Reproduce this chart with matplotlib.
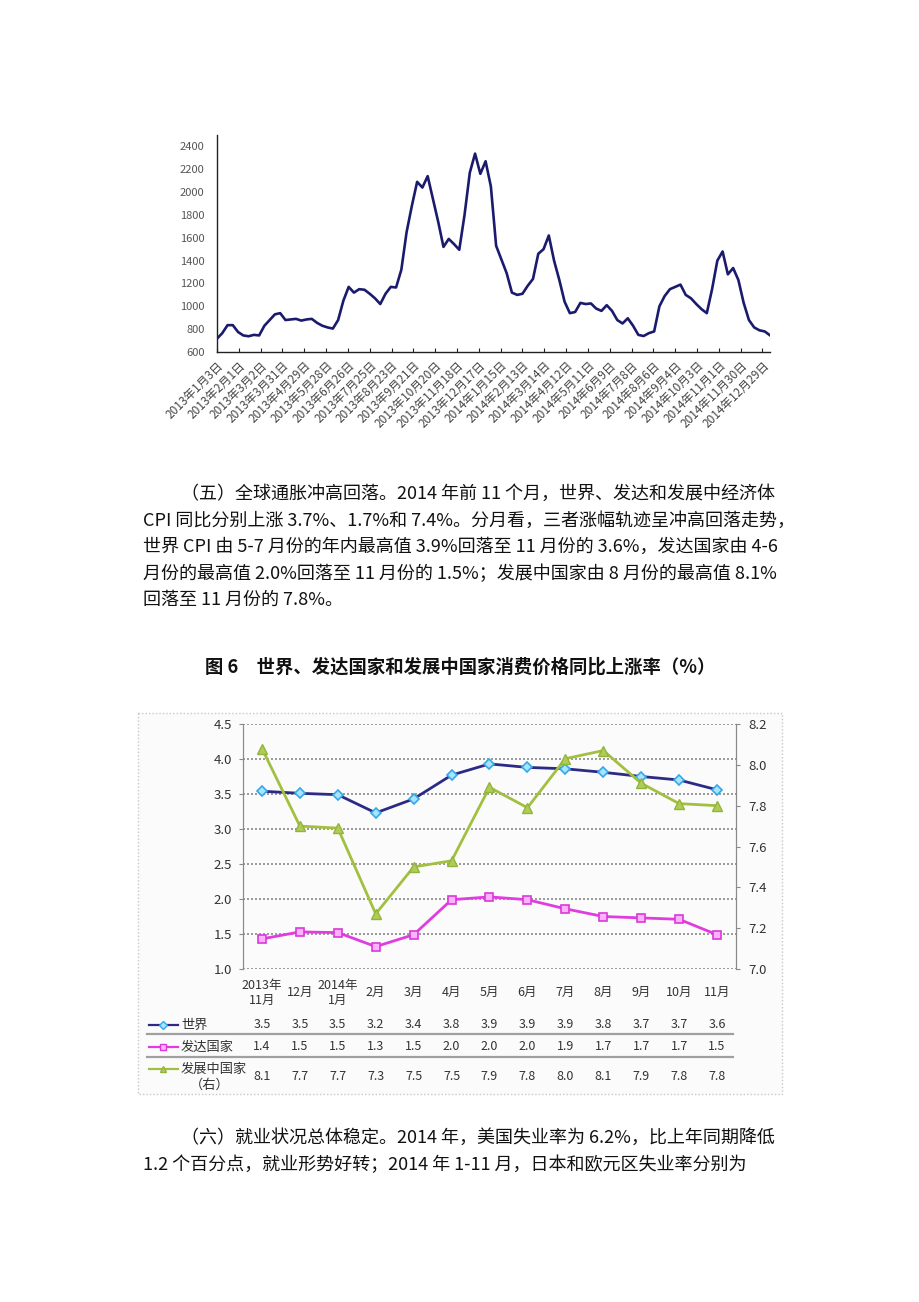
import numpy as np
import matplotlib
matplotlib.use("Agg")
from matplotlib import pyplot as plt
from matplotlib.patches import Rectangle
import matplotlib.transforms as mtransforms

plt.rcParams['font.family'] = ['Noto Sans CJK SC', 'DejaVu Sans']

# ---- top chart: index, one value per week from 2013-01-03
bdi_start = np.datetime64('2013-01-03')
bdi_values = [717, 765, 835, 835, 775, 745, 738, 750, 745, 830, 880, 930, 940, 880,
              885, 890, 875, 885, 890, 855, 830, 815, 805, 880, 1050, 1170, 1120, 1150,
              1145, 1110, 1070, 1020, 1110, 1170, 1165, 1320, 1650, 1880, 2090, 2040, 2140,
              1940, 1740, 1520, 1590, 1545, 1495, 1800, 2170, 2337, 2160, 2270, 2050, 1530,
              1410, 1290, 1120, 1100, 1110, 1180, 1240, 1460, 1500, 1620, 1400, 1230, 1040,
              940, 950, 1030, 1020, 1025, 980, 960, 1010, 960, 880, 850, 895, 830, 750,
              740, 765, 780, 1000, 1090, 1150, 1170, 1190, 1100, 1070, 1020, 975, 940, 1150,
              1400, 1480, 1280, 1335, 1230, 1030, 880, 815, 790, 780, 746]
bdi_tick_labels = ['2013年1月3日', '2013年2月1日', '2013年3月2日', '2013年3月31日',
                   '2013年4月29日', '2013年5月28日', '2013年6月26日', '2013年7月25日',
                   '2013年8月23日', '2013年9月21日', '2013年10月20日', '2013年11月18日',
                   '2013年12月17日', '2014年1月15日', '2014年2月13日', '2014年3月14日',
                   '2014年4月12日', '2014年5月11日', '2014年6月9日', '2014年7月8日',
                   '2014年8月6日', '2014年9月4日', '2014年10月3日', '2014年11月1日',
                   '2014年11月30日', '2014年12月29日']

# ---- figure 6: CPI year-on-year (%)
months = ['2013年\n11月', '12月', '2014年\n1月', '2月', '3月', '4月', '5月',
          '6月', '7月', '8月', '9月', '10月', '11月']
world = [3.54, 3.51, 3.49, 3.23, 3.43, 3.77, 3.93, 3.88, 3.86, 3.81, 3.75, 3.70, 3.56]
developed = [1.43, 1.53, 1.52, 1.32, 1.49, 1.99, 2.03, 1.99, 1.86, 1.75, 1.73, 1.71, 1.49]
developing = [8.08, 7.70, 7.69, 7.27, 7.50, 7.53, 7.89, 7.79, 8.03, 8.07, 7.91, 7.81, 7.80]
world_tbl = ['3.5', '3.5', '3.5', '3.2', '3.4', '3.8', '3.9', '3.9', '3.9', '3.8', '3.7', '3.7', '3.6']
developed_tbl = ['1.4', '1.5', '1.5', '1.3', '1.5', '2.0', '2.0', '2.0', '1.9', '1.7', '1.7', '1.7', '1.5']
developing_tbl = ['8.1', '7.7', '7.7', '7.3', '7.5', '7.5', '7.9', '7.8', '8.0', '8.1', '7.9', '7.8', '7.8']

para5 = ['（五）全球通胀冲高回落。2014 年前 11 个月，世界、发达和发展中经济体',
         'CPI 同比分别上涨 3.7%、1.7%和 7.4%。分月看，三者涨幅轨迹呈冲高回落走势，',
         '世界 CPI 由 5-7 月份的年内最高值 3.9%回落至 11 月份的 3.6%，发达国家由 4-6',
         '月份的最高值 2.0%回落至 11 月份的 1.5%；发展中国家由 8 月份的最高值 8.1%',
         '回落至 11 月份的 7.8%。']
title6 = '图 6　世界、发达国家和发展中国家消费价格同比上涨率（%）'
para6 = ['（六）就业状况总体稳定。2014 年，美国失业率为 6.2%，比上年同期降低',
         '1.2 个百分点，就业形势好转；2014 年 1-11 月，日本和欧元区失业率分别为']

W, H = 920, 1302
fig = plt.figure(figsize=(W / 100, H / 100), dpi=100)
fig.patch.set_facecolor('white')

# page axes in pixel coordinates, used for the running text
page = fig.add_axes([0, 0, 1, 1], zorder=0)
page.set_xlim(0, W)
page.set_ylim(H, 0)
page.axis('off')

def box(l, t, r, b):
    return [l / W, (H - b) / H, (r - l) / W, (b - t) / H]

# ---------------- top chart
ax1 = fig.add_axes(box(217, 135, 770, 352), zorder=1)
bdi_dates = bdi_start + np.arange(len(bdi_values)) * np.timedelta64(7, 'D')
ax1.plot(bdi_dates, bdi_values, color='#1b1b6e', lw=1.9)
ax1.set_xlim(bdi_start, bdi_start + np.timedelta64(735, 'D'))
ax1.set_ylim(600, 2500)
ax1.set_yticks(range(600, 2401, 200))
ax1.set_xticks(bdi_start + np.arange(len(bdi_tick_labels)) * np.timedelta64(29, 'D'))
ax1.set_xticklabels(bdi_tick_labels, rotation=45, ha='right', rotation_mode='anchor',
                    fontsize=8.5, color='#444')
ax1.tick_params(axis='y', length=0, labelsize=8, labelcolor='#555', pad=9)
ax1.tick_params(axis='x', direction='in', length=3, pad=5, color='#222')
for s in ('top', 'right'):
    ax1.spines[s].set_visible(False)
for s in ('left', 'bottom'):
    ax1.spines[s].set_color('#222')
    ax1.spines[s].set_linewidth(1.0)
ax1.set_facecolor('none')

# ---------------- running text
body_fs = 13
for i, line in enumerate(para5):
    page.text(181 if i == 0 else 143, 494 + i * 26.5, line, fontsize=body_fs,
              va='center', ha='left', color='#111')
page.text(460, 667, title6, fontsize=13.2, fontweight='bold', ha='center', va='center',
          color='#111')
for i, line in enumerate(para6):
    page.text(181 if i == 0 else 143, 1138 + i * 27, line, fontsize=body_fs,
              va='center', ha='left', color='#111')

# ---------------- figure 6 chart
page.add_patch(Rectangle((138, 713), 644, 381, facecolor='#fbfbfb', edgecolor='#c8c8c8',
                         lw=1.0, linestyle=(0, (1, 1.5))))

ax2 = fig.add_axes(box(243, 724, 736, 969), zorder=1)
ax2r = ax2.twinx()
x = np.arange(len(months))
ax2.set_facecolor('none')
ax2.plot(x, world, color='#2b2b86', lw=2.0, marker='D', ms=5, mfc='#a8e4ff',
         mec='#35a8e8', mew=1.2, zorder=4)
ax2.plot(x, developed, color='#e03ce0', lw=2.0, marker='s', ms=5.5, mfc='#ffb0ff',
         mec='#d83ad8', mew=1.2, zorder=4)
ax2r.plot(x, developing, color='#a2c040', lw=2.0, marker='^', ms=6.5, mfc='#b0cc58',
          mec='#93b43a', mew=1.0, zorder=4)
ax2.set_xlim(-0.5, len(months) - 0.5)
ax2.set_ylim(1.0, 4.5)
ax2r.set_ylim(7.0, 8.2)
ax2.set_yticks(np.arange(1.0, 4.51, 0.5))
ax2.set_yticklabels([f'{v:.1f}' for v in np.arange(1.0, 4.51, 0.5)])
ax2r.set_yticks(np.arange(7.0, 8.21, 0.2))
ax2r.set_yticklabels([f'{v:.1f}' for v in np.arange(7.0, 8.21, 0.2)])
ax2.grid(axis='y', color='#8a8a8a', lw=1.2, linestyle=(0, (1.2, 1.2)))
ax2.set_axisbelow(True)
ax2.set_xticks(x)
ax2.set_xticklabels(months, fontsize=9, color='#333', va='center', linespacing=1.2)
ax2.tick_params(axis='x', length=0, pad=17)
ax2.tick_params(axis='y', length=3, color='#888', labelsize=9.5, labelcolor='#333', pad=5)
ax2r.tick_params(axis='y', length=3, color='#888', labelsize=9.5, labelcolor='#333', pad=6)
for a in (ax2, ax2r):
    a.spines['top'].set_visible(False)
    a.spines['bottom'].set_visible(False)
    a.spines['left'].set_color('#8a8a8a')
    a.spines['right'].set_color('#8a8a8a')

# data table under the chart
tbl = mtransforms.blended_transform_factory(ax2.transData, page.transData)
rows = [(world_tbl, 1025), (developed_tbl, 1047), (developing_tbl, 1077)]
for vals, yy in rows:
    for xi, v in zip(x, vals):
        page.text(xi, yy, v, transform=tbl, fontsize=9, ha='center', va='center',
                  color='#333')
for yy in (1034, 1057):
    page.plot([147, 733], [yy, yy], color='#a0a0a0', lw=1.6)

legend_rows = [('世界', 1025, '#2b2b86', 'D', '#a8e4ff', '#35a8e8'),
               ('发达国家', 1047, '#e03ce0', 's', '#ffb0ff', '#d83ad8'),
               ('发展中国家', 1069, '#a2c040', '^', '#b0cc58', '#93b43a')]
for name, yy, col, mk, fc, ec in legend_rows:
    page.plot([149, 178], [yy, yy], color=col, lw=1.6)
    page.plot([163.5], [yy], marker=mk, ms=4.5, mfc=fc, mec=ec, mew=1.0, color=col)
    page.text(181, yy, name, fontsize=9.5, ha='left', va='center', color='#333')
page.text(210, 1085, '（右）', fontsize=9.5, ha='center', va='center', color='#333')

fig.savefig('out.png', dpi=100, facecolor='white')
